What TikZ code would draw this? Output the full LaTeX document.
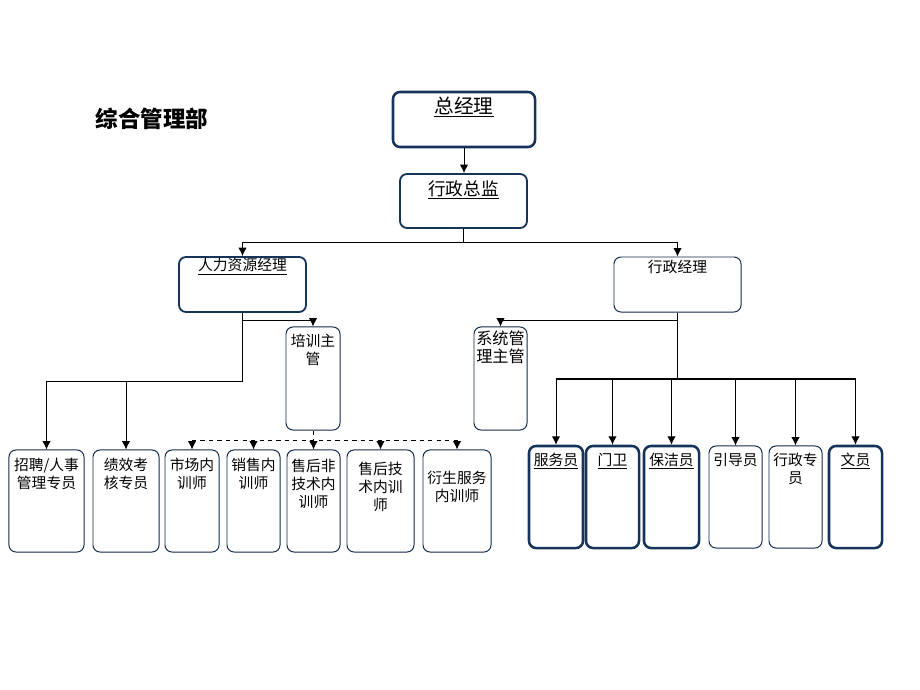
\documentclass[tikz,border=0pt]{standalone}
\usepackage{fontspec}
\setmainfont{Noto Sans CJK SC}
\usetikzlibrary{arrows.meta}
\definecolor{navy}{RGB}{22,52,90}

\begin{document}
\begin{tikzpicture}[x=0.025cm,y=-0.025cm,
  box/.style={draw=navy!80!black, line width=0.7pt, rounded corners=5pt, inner sep=0pt},
  boxb/.style={box, draw=navy, line width=1.8pt},
  boxm/.style={box, draw=navy, line width=1.3pt},
  txt/.style={anchor=north, align=center, inner sep=0pt, yshift=#1,
    font=\fontsize{10.5}{12.8}\selectfont},
  txt/.default=-5.5pt,
  arr/.style={-{Latex[length=6pt,width=6pt]}, line width=0.7pt}]
\useasboundingbox (0,0) rectangle (920,690);

\node[font=\fontsize{16}{18}\selectfont\bfseries] (title) at (152,119) {综合管理部};

% top
\node[boxb, minimum width=3.55cm, minimum height=1.375cm,
  label={[txt=-4pt, font=\fontsize{14}{16}\selectfont]north:\underline{总经理}}] (zjl) at (464,119.5) {};
\node[boxm, minimum width=3.175cm, minimum height=1.35cm,
  label={[txt=-5pt, font=\fontsize{12.5}{14}\selectfont]north:\underline{行政总监}}] (xzzj) at (463.5,201) {};

% managers
\node[boxm, minimum width=3.175cm, minimum height=1.375cm,
  label={[txt=-1.5pt]north:\underline{人力资源经理}}] (rlzy) at (242.5,284.5) {};
\node[box, minimum width=3.175cm, minimum height=1.375cm,
  label={[txt=-2.5pt]north:行政经理}] (xzjl) at (677.5,284.5) {};

\node[box, minimum width=1.35cm, minimum height=2.575cm,
  label={[txt]north:培训主\\管}] (pxzg) at (313,378.5) {};
\node[box, minimum width=1.325cm, minimum height=2.575cm,
  label={[txt=-3pt, font=\fontsize{11.5}{12.8}\selectfont]north:系统管\\理主管}] (xtgl) at (500.5,378.5) {};

% hr staff
\node[box, minimum width=1.875cm, minimum height=2.55cm,
  label={[txt=-6pt]north:招聘/人事\\管理专员}] (zp) at (46.5,501) {};
\node[box, minimum width=1.65cm, minimum height=2.55cm,
  label={[txt=-6pt]north:绩效考\\核专员}] (jx) at (126,501) {};
\node[box, minimum width=1.35cm, minimum height=2.55cm,
  label={[txt=-6pt]north:市场内\\训师}] (sc) at (192,501) {};
\node[box, minimum width=1.325cm, minimum height=2.55cm,
  label={[txt=-6pt]north:销售内\\训师}] (xs) at (253.5,501) {};
\node[box, minimum width=1.325cm, minimum height=2.55cm,
  label={[txt=-6.5pt]north:售后非\\技术内\\训师}] (shf) at (313.5,501) {};
\node[box, minimum width=1.675cm, minimum height=2.55cm,
  label={[txt=-8.5pt]north:售后技\\术内训\\师}] (shj) at (380.5,501) {};
\node[box, minimum width=1.7cm, minimum height=2.55cm,
  label={[txt=-15.5pt]north:衍生服务\\内训师}] (ys) at (457,501) {};

% admin staff
\node[boxb, minimum width=1.35cm, minimum height=2.55cm,
  label={[txt]north:\underline{服务员}}] (fwy) at (556,497) {};
\node[boxb, minimum width=1.325cm, minimum height=2.55cm,
  label={[txt]north:\underline{门卫}}] (mw) at (612.5,497) {};
\node[boxb, minimum width=1.375cm, minimum height=2.55cm,
  label={[txt]north:\underline{保洁员}}] (bjy) at (671.5,497) {};
\node[box, minimum width=1.325cm, minimum height=2.55cm,
  label={[txt]north:引导员}] (ydy) at (735.5,497) {};
\node[box, minimum width=1.325cm, minimum height=2.55cm,
  label={[txt]north:行政专\\员}] (xzzy) at (795.5,497) {};
\node[boxb, minimum width=1.325cm, minimum height=2.55cm,
  label={[txt]north:\underline{文员}}] (wy) at (855.5,497) {};

% connectors
\draw[arr] (zjl.south) -- (zjl.south |- xzzj.north);
\coordinate (top-bus) at (463.5,242);
\draw[line width=0.7pt] (xzzj.south) -- (top-bus);
\draw[arr] (top-bus) -| (rlzy.north);
\draw[arr] (top-bus) -| (xzjl.north);

\coordinate (hr-bus) at (242.5,381);
\coordinate (px-bus) at (242.5,320);
\draw[arr] (rlzy.south) -- (hr-bus) -| (zp.north);
\draw[arr] (hr-bus -| jx.north) -- (jx.north);
\draw[arr] (px-bus) -| (pxzg.north);

\coordinate (tr-bus) at (313,440);
\draw[dashed, line width=0.7pt] (pxzg.south) -- (tr-bus);
\draw[dashed, line width=0.7pt] (tr-bus -| sc.north) -- (tr-bus -| ys.north);
\foreach \n in {sc,xs,shf,shj,ys}
  \draw[arr, dashed] (tr-bus -| \n.north) -- (\n.north);

\coordinate (ad-bus) at (677.5,379);
\coordinate (xt-bus) at (677.5,320);
\draw[line width=1.4pt] (xzjl.south) -- (ad-bus);
\draw[arr] (xt-bus) -| (xtgl.north);
\draw[line width=1pt] (ad-bus -| fwy.north) -- (ad-bus -| wy.north);
\foreach \n in {fwy,mw,bjy,ydy,xzzy,wy}
  \draw[arr] (ad-bus -| \n.north) -- (\n.north);
\end{tikzpicture}
\end{document}
